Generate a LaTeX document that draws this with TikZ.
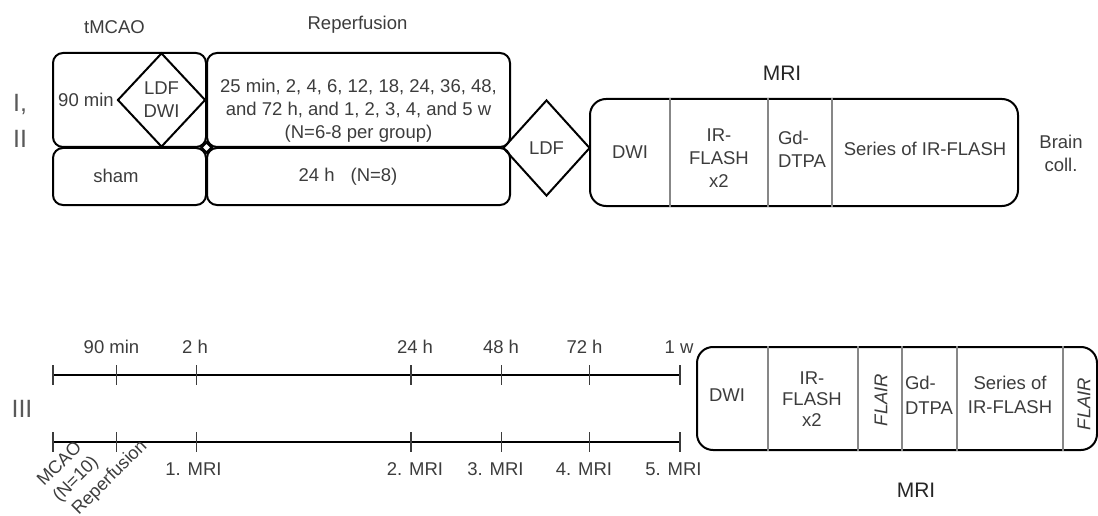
\documentclass[tikz,border=0pt]{standalone}
\usepackage{fontspec}
\setmainfont{Liberation Sans}
\usetikzlibrary{shapes.geometric, positioning, calc}
\definecolor{txtgray}{RGB}{60,60,60}
\definecolor{rulegray}{RGB}{135,135,135}

\begin{document}
\begin{tikzpicture}[x=1pt, y=-1pt,
    every node/.style={text=txtgray, font=\fontsize{18.5}{23}\selectfont},
    phase/.style={rectangle, draw=black, line width=2pt, rounded corners=10pt, inner sep=0pt},
    mribox/.style={rectangle, draw=black, line width=2pt, rounded corners=16pt, inner sep=0pt},
    check/.style={diamond, draw=black, line width=2pt, inner sep=0pt},
    divider/.style={draw=rulegray, line width=1.3pt},
    timeline/.style={line width=2.8pt},
    tickmark/.style={line width=1.2pt, draw=txtgray},
    grouplbl/.style={font=\fontsize{25}{36}\selectfont, text=txtgray!85},
    mrititle/.style={font=\fontsize{21}{24}\selectfont, text=black!85},
    slanted/.style={rotate=90, font=\fontsize{18.5}{23}\selectfont\itshape},
    tilted/.style={rotate=45, inner sep=0pt, font=\fontsize{18}{22}\selectfont}
]
\useasboundingbox (0,0) rectangle (1098,516);

% Group labels
\node[grouplbl, align=center] (g12) at (20,121) {I,\\II};
\node[grouplbl] (g3) at (22,409) {III};

% Experiment I, II: occlusion and reperfusion
\node (tmcaolbl) at (114.5,27) {tMCAO};
\node (replbl) at (357.5,25) {Reperfusion};
\node[phase, minimum width=153, minimum height=94] (tmcao) at (129.5,100) {};
\node[phase, minimum width=303, minimum height=94] (rep) at (358.5,100) {};
\node[phase, minimum width=153, minimum height=57] (sham) at (129.5,176.5) {};
\node[phase, minimum width=303, minimum height=57] (rep24) at (358.5,176.5) {};

\node (occl) at (86,100) {90 min};
\node[check, minimum width=88, minimum height=94, align=center] (ldfdwi) at (161.5,100) {LDF\\DWI};
\node[check, fill=white, minimum size=11] (joint) at (206.5,147.5) {};
\node[align=center] (reptimes) at (358.5,111) {25 min, 2, 4, 6, 12, 18, 24, 36, 48,\\and 72 h, and 1, 2, 3, 4, and 5 w\\(N=6-8 per group)};
\node (shamlbl) at (116,176) {sham};
\node (rep24lbl) at (348,177) {24 h\hspace{16pt}(N=8)};
\node[check, minimum width=87, minimum height=96] (ldf) at (546.5,148) {LDF};

% MRI protocol I, II
\node[mribox, minimum width=428, minimum height=107] (mri) at (804,152.5) {};
\node[mrititle] (mrilbl) at (782,73) {MRI};
\foreach \x in {670,768,832}
    \draw[divider] (\x,0 |- mri.north) -- (\x,0 |- mri.south);
\node (dwi) at (630,152) {DWI};
\node[align=center] (irflash) at (719,158) {IR-\\FLASH\\x2};
\node[align=left] (gd) at (802,149) {Gd-\\DTPA};
\node (series) at (925,149) {Series of IR-FLASH};
\node[align=center] (brain) at (1061,153) {Brain\\coll.};

% Experiment III: time lines
\coordinate (a0) at (53,375);
\coordinate (a6) at (680,375);
\coordinate (b0) at (53,442);
\coordinate (b6) at (680,442);
\draw[timeline] (a0) -- (a6);
\draw[timeline] (b0) -- (b6);
\foreach \x in {53,116.7,196.7,411,501.7,589.3,680} {
    \draw[tickmark] (\x,365) -- (\x,385);
    \draw[tickmark] (\x,432) -- (\x,452);
}
\foreach \x/\t [count=\i] in {111.5/90 min, 195/2 h, 415/24 h, 501/48 h, 584.5/72 h, 679/1 w}
    \node (up\i) at (\x,347) {\t};
\foreach \x/\t [count=\i] in {193.5/1. MRI, 415/2. MRI, 495.5/3. MRI, 584/4. MRI, 673.5/5. MRI}
    \node (dn\i) at (\x,469) {\t};
\node[tilted, align=left] (mcao) at (68.5,472) {MCAO\\(N=10)};
\node[tilted] (reperf) at (110,478) {Reperfusion};

% MRI protocol III
\node[mribox, minimum width=400, minimum height=103] (mri3) at (897,398.5) {};
\node[mrititle] (mri3lbl) at (916,490) {MRI};
\foreach \x in {768,858,902,957,1063}
    \draw[divider] (\x,0 |- mri3.north) -- (\x,0 |- mri3.south);
\node (dwi3) at (727,395) {DWI};
\node[align=center, font=\fontsize{18.5}{21}\selectfont] (irflash3) at (812,399) {IR-\\FLASH\\x2};
\node[slanted] (flair1) at (881,400) {FLAIR};
\node[align=left, font=\fontsize{18.5}{25}\selectfont] (gd3) at (929,395.5) {Gd-\\DTPA};
\node[align=center, font=\fontsize{18.5}{24}\selectfont] (series3) at (1010,395) {Series of\\IR-FLASH};
\node[slanted] (flair2) at (1084,404) {FLAIR};

\end{tikzpicture}
\end{document}
